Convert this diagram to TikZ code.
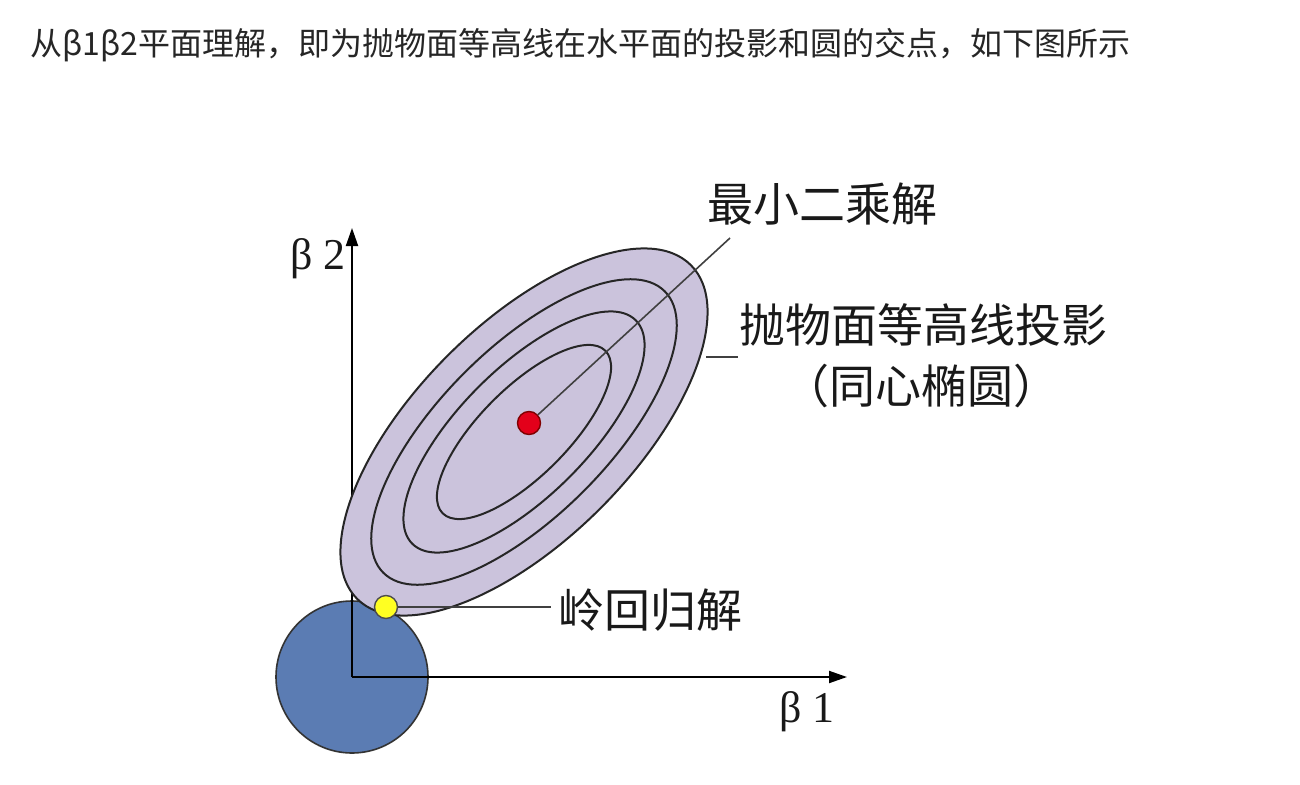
\documentclass[tikz,border=0pt]{standalone}
\usepackage{fontspec}
\setmainfont{Liberation Serif}
\newfontfamily\cjk{Noto Sans CJK SC}
\usetikzlibrary{arrows.meta}
\definecolor{lav}{HTML}{CBC3DC}
\definecolor{circfill}{HTML}{5B7CB3}
\definecolor{reddot}{HTML}{E3001A}
\definecolor{yeldot}{HTML}{FFFF22}
\begin{document}
\begin{tikzpicture}[x=1pt,y=-1pt,
  axis/.style={line width=2pt,-{Triangle[length=18pt,width=12pt]}},
  contour/.style={line width=2pt, draw=black!85},
  leader/.style={line width=1.6pt, draw=black!75},
  cjklabel/.style={font=\cjk\fontsize{46}{50}\selectfont, text=black!90, inner sep=0pt},
  axlabel/.style={font=\fontsize{44}{48}\selectfont, text=black!90, inner sep=0pt},
  dot/.style={circle, line width=1.4pt, minimum size=23pt, inner sep=0pt}]
\useasboundingbox[fill=white] (0,0) rectangle (1300,784);
\node[anchor=west, font=\cjk\fontsize{32}{35}\selectfont, text=black!85, inner sep=0pt] (title) at (30,45) {从β1β2平面理解，即为抛物面等高线在水平面的投影和圆的交点，如下图所示};

\coordinate (O) at (352,677);
\coordinate (C) at (524,432);
\coordinate (Ytip) at (352,228);
\coordinate (Xtip) at (847,677);

% circle constraint
\draw[fill=circfill, draw=black!80, line width=1.6pt] (O) circle[radius=76pt];
% axes
\draw[axis] (O) -- (Ytip);
\draw[axis] (O) -- (Xtip);

% ellipses
\begin{scope}[shift={(C)}, rotate=45]
  \draw[contour, fill=lav] (0,0) ellipse[x radius=236pt, y radius=108pt];
  \draw[contour] (0,0) ellipse[x radius=199pt, y radius=84pt];
  \draw[contour] (0,0) ellipse[x radius=158pt, y radius=64pt];
  \draw[contour] (0,0) ellipse[x radius=115pt, y radius=44pt];
\end{scope}

% dots
\node[dot, fill=reddot, draw=red!50!black] (red) at (529,423) {};
\node[dot, fill=yeldot, draw=black!70] (yel) at (386,607) {};

% leaders
\coordinate (LSend) at (730,238);
\coordinate (PEa) at (706,357);
\coordinate (PEb) at (738,357);
\coordinate (RGend) at (551,607);
\draw[leader] (red) -- (LSend);
\draw[leader] (PEa) -- (PEb);
\draw[leader] (yel) -- (RGend);

% labels
\node[cjklabel] (ls) at (822,204) {最小二乘解};
\node[cjklabel] (pe1) at (923,325) {抛物面等高线投影};
\node[cjklabel] (pe2) at (921,386) {（同心椭圆）};
\node[cjklabel] (rg) at (650,610) {岭回归解};
\node[axlabel] (b2) at (318,259) {β 2};
\node[axlabel] (b1) at (807,712) {β 1};
\end{tikzpicture}
\end{document}
